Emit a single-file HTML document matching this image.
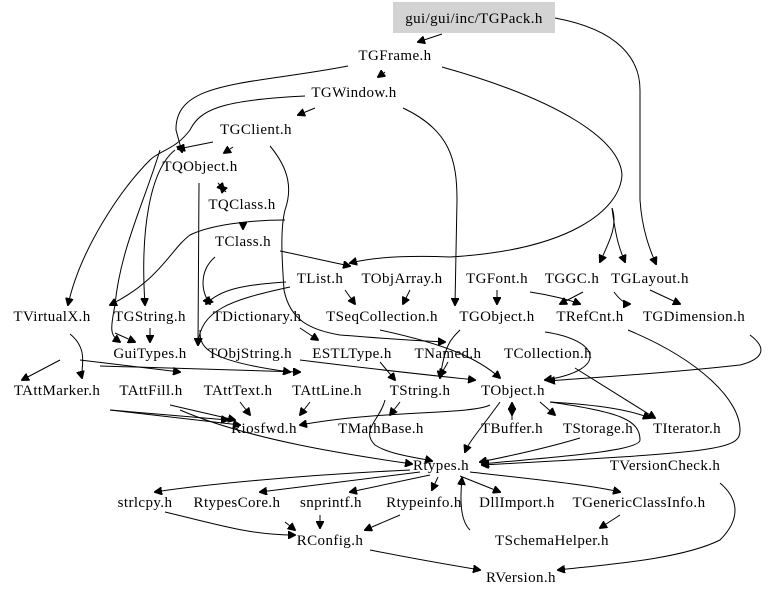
<!DOCTYPE html>
<html><head><meta charset="utf-8"><style>
html,body{margin:0;padding:0;background:#fff;}
svg{display:block;}
text{font-family:"Liberation Serif",serif;font-size:15px;letter-spacing:0.4px;fill:#000;text-anchor:middle;}
path{fill:none;stroke:#000;stroke-width:1;}
</style></head><body>
<svg width="768" height="598" viewBox="0 0 768 598" xmlns="http://www.w3.org/2000/svg">
<defs><marker id="a" markerWidth="8" markerHeight="8" refX="7" refY="4" orient="auto" markerUnits="userSpaceOnUse"><path d="M0,0 L8,4 L0,8 Z" style="fill:#000;stroke:#000"/></marker></defs>
<rect x="393" y="2" width="162" height="31" fill="#d3d3d3"/>
<g marker-end="url(#a)">
<path d="M442,34 L418,42"/>
<path d="M555,18 C620,30 640,60 640,90 L640,200 C642,230 650,250 656,264"/>
<path d="M348,66 C250,85 175,80 176,130 L182,152"/>
<path d="M305,96 C220,100 200,110 190,130 C175,150 160,150 150,160 C120,190 80,250 68,305"/>
<path d="M213,142 L178,149"/>
<path d="M385,72 L378,77"/>
<path d="M315,108 L298,115"/>
<path d="M233,147 L224,153"/>
<path d="M403,108 C450,130 457,160 457,200 L455,305"/>
<path d="M442,67 C560,100 620,140 622,175 C620,210 570,250 450,257 C400,255 370,258 350,263"/>
<path d="M612,208 C618,225 610,240 600,262"/>
<path d="M612,208 C616,240 620,250 625,262"/>
<path d="M175,150 C150,170 140,230 145,305"/>
<path d="M160,150 C145,200 120,250 115,305 C110,330 110,335 120,342"/>
<path d="M270,146 C290,170 292,190 285,210 C280,230 282,260 284,290 C290,320 310,330 340,335 C380,338 400,340 445,342"/>
<path d="M218,183 L224,190"/>
<path d="M226,192 L220,186"/>
<path d="M199,183 L198,345"/>
<path d="M285,220 C250,220 210,225 190,235 C170,250 160,280 110,305"/>
<path d="M243,222 L243,229"/>
<path d="M280,251 C300,255 330,262 350,266"/>
<path d="M215,257 C200,270 200,290 210,304"/>
<path d="M286,282 C240,285 220,290 206,304"/>
<path d="M290,287 C230,300 200,310 198,345"/>
<path d="M345,290 L355,304"/>
<path d="M410,290 L403,304"/>
<path d="M497,290 L497,304"/>
<path d="M530,292 C550,295 570,300 580,304"/>
<path d="M583,292 L560,304"/>
<path d="M614,292 C620,300 625,304 630,304"/>
<path d="M650,290 L680,304"/>
<path d="M150,328 L150,342"/>
<path d="M115,333 L135,342"/>
<path d="M300,328 L318,340"/>
<path d="M200,330 C200,345 200,360 290,372"/>
<path d="M70,334 C90,350 80,370 82,378"/>
<path d="M100,366 L300,372"/>
<path d="M80,360 L180,372"/>
<path d="M60,360 L22,380"/>
<path d="M380,330 C450,345 480,360 500,378"/>
<path d="M460,330 C450,340 445,345 440,378"/>
<path d="M448,362 L440,376"/>
<path d="M545,332 C600,340 610,370 545,380"/>
<path d="M575,368 L655,418"/>
<path d="M750,335 C770,350 760,360 740,365 C650,375 580,378 548,381"/>
<path d="M628,330 C700,360 740,400 740,430 C740,450 720,452 482,465"/>
<path d="M720,483 C740,500 740,520 720,540 C680,560 600,565 558,570"/>
<path d="M300,360 C380,370 400,372 475,380"/>
<path d="M380,362 L395,380"/>
<path d="M110,410 L228,420"/>
<path d="M110,410 L240,425"/>
<path d="M170,405 L235,420"/>
<path d="M240,402 L250,415"/>
<path d="M310,402 L300,415"/>
<path d="M490,405 C470,415 380,410 300,425"/>
<path d="M385,400 C380,420 360,430 375,445 C390,455 420,458 432,461"/>
<path d="M400,402 L390,415"/>
<path d="M500,402 C480,430 470,440 465,452"/>
<path d="M512,402 L512,415"/>
<path d="M512,420 L512,403"/>
<path d="M540,402 L555,415"/>
<path d="M550,402 C600,405 630,410 650,418"/>
<path d="M580,438 C540,450 500,458 480,462"/>
<path d="M550,402 C620,412 640,420 640,440 C640,452 540,458 482,464"/>
<path d="M180,410 C250,440 350,455 412,464"/>
<path d="M410,470 C300,475 200,485 155,492"/>
<path d="M420,472 L260,492"/>
<path d="M430,475 L350,492"/>
<path d="M438,477 L432,490"/>
<path d="M460,476 L500,492"/>
<path d="M470,472 C540,480 590,485 620,492"/>
<path d="M470,530 C460,520 460,500 462,478"/>
<path d="M165,512 C220,525 250,535 295,535"/>
<path d="M285,522 L295,530"/>
<path d="M320,515 L320,528"/>
<path d="M400,515 L365,530"/>
<path d="M370,550 C420,560 450,565 480,570"/>
<path d="M620,515 L600,528"/>
</g>
<text x="474" y="23">gui/gui/inc/TGPack.h</text>
<text x="395" y="60">TGFrame.h</text>
<text x="354" y="97">TGWindow.h</text>
<text x="256" y="134">TGClient.h</text>
<text x="200" y="171">TQObject.h</text>
<text x="242" y="209">TQClass.h</text>
<text x="243" y="246">TClass.h</text>
<text x="320" y="283">TList.h</text>
<text x="402" y="283">TObjArray.h</text>
<text x="497" y="283">TGFont.h</text>
<text x="572" y="283">TGGC.h</text>
<text x="650" y="283">TGLayout.h</text>
<text x="52" y="321">TVirtualX.h</text>
<text x="150" y="321">TGString.h</text>
<text x="257" y="321">TDictionary.h</text>
<text x="382" y="321">TSeqCollection.h</text>
<text x="497" y="321">TGObject.h</text>
<text x="590" y="321">TRefCnt.h</text>
<text x="694" y="321">TGDimension.h</text>
<text x="150" y="358">GuiTypes.h</text>
<text x="250" y="358">TObjString.h</text>
<text x="352" y="358">ESTLType.h</text>
<text x="448" y="358">TNamed.h</text>
<text x="548" y="358">TCollection.h</text>
<text x="57" y="395">TAttMarker.h</text>
<text x="151" y="395">TAttFill.h</text>
<text x="238" y="395">TAttText.h</text>
<text x="327" y="395">TAttLine.h</text>
<text x="420" y="395">TString.h</text>
<text x="513" y="395">TObject.h</text>
<text x="264" y="433">Riosfwd.h</text>
<text x="381" y="433">TMathBase.h</text>
<text x="512" y="433">TBuffer.h</text>
<text x="598" y="433">TStorage.h</text>
<text x="687" y="433">TIterator.h</text>
<text x="441" y="470">Rtypes.h</text>
<text x="665" y="470">TVersionCheck.h</text>
<text x="145" y="507">strlcpy.h</text>
<text x="237" y="507">RtypesCore.h</text>
<text x="331" y="507">snprintf.h</text>
<text x="424" y="507">Rtypeinfo.h</text>
<text x="517" y="507">DllImport.h</text>
<text x="639" y="507">TGenericClassInfo.h</text>
<text x="330" y="545">RConfig.h</text>
<text x="552" y="545">TSchemaHelper.h</text>
<text x="521" y="582">RVersion.h</text>
</svg>
</body></html>
